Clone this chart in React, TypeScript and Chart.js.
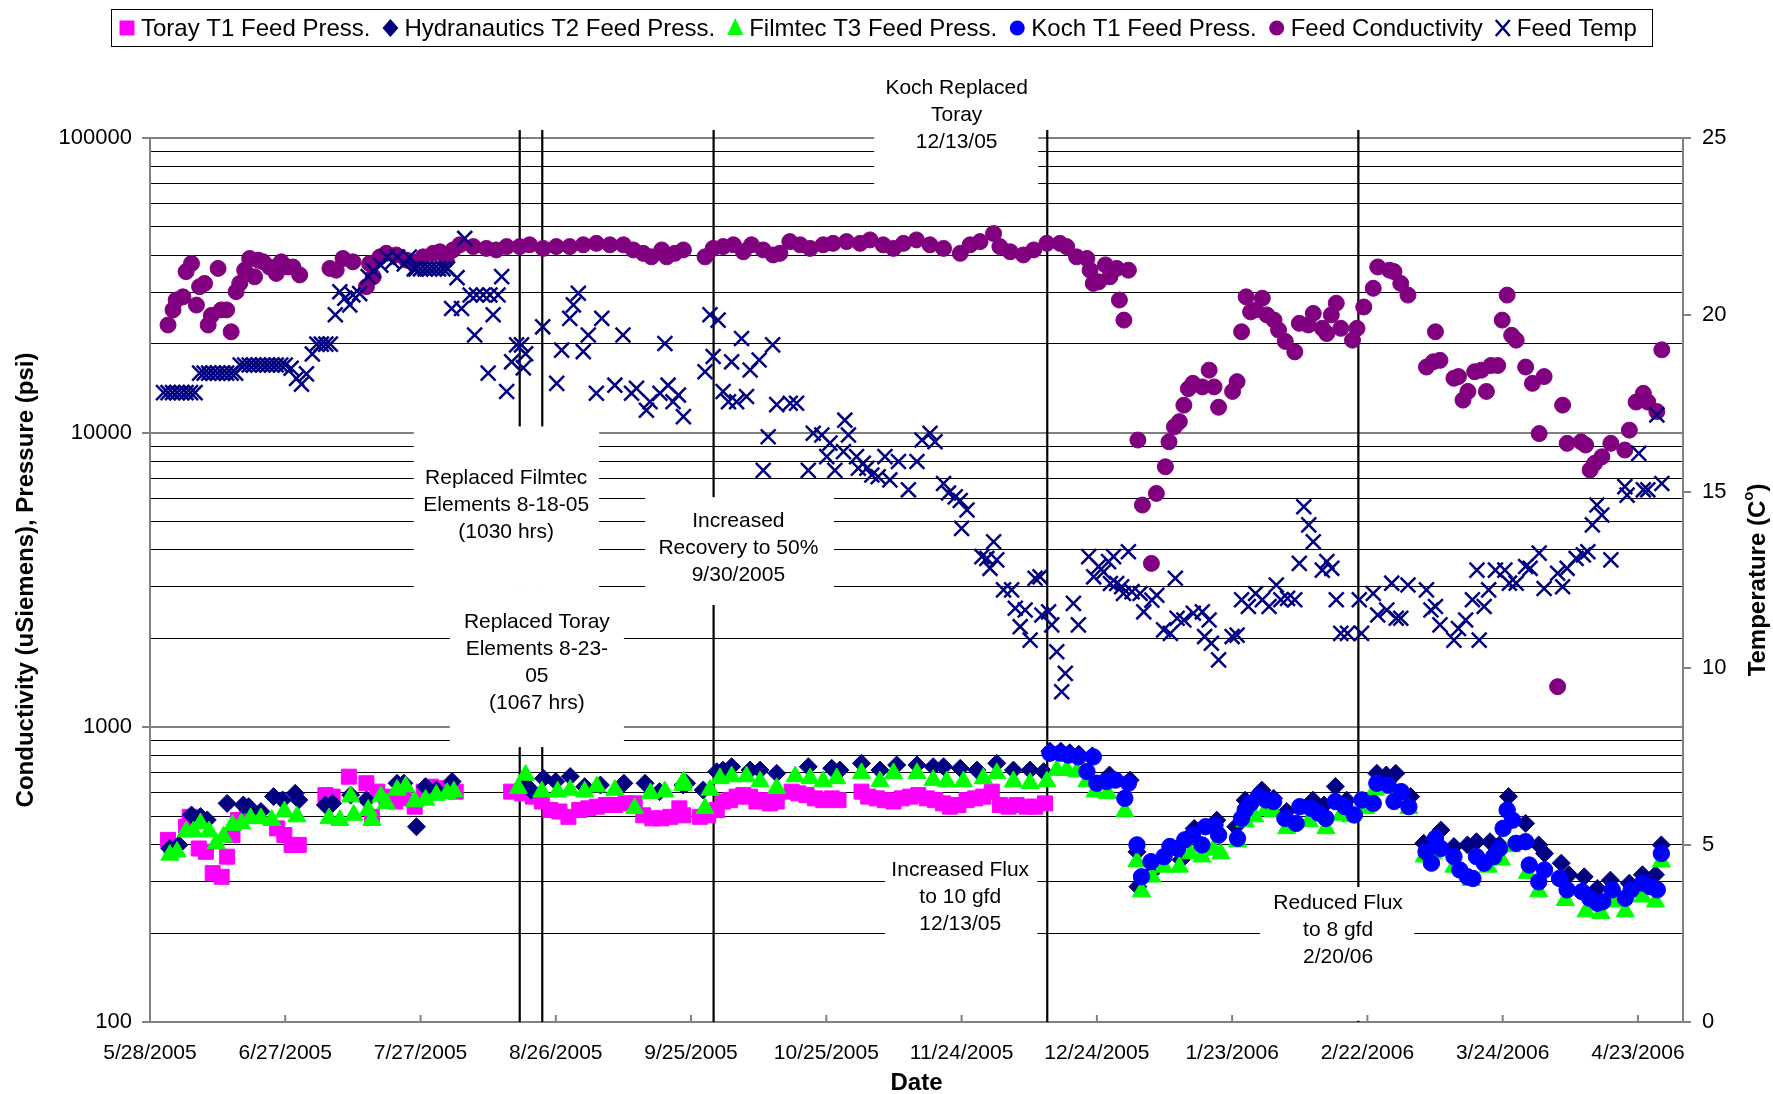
import React, { useEffect, useRef } from "react";
import { Chart, registerables } from "chart.js";

Chart.register(...registerables);

const FONT = '"Liberation Sans", Arial, Helvetica, sans-serif';

// x axis: days since 5/28/2005
const X_MIN = 0;
const X_MAX = 340;
const X_TICKS = [0, 30, 60, 90, 120, 150, 180, 210, 240, 270, 300, 330];
const LOG_TICKS = [
  100, 200, 300, 400, 500, 600, 700, 800, 900,
  1000, 2000, 3000, 4000, 5000, 6000, 7000, 8000, 9000,
  10000, 20000, 30000, 40000, 50000, 60000, 70000, 80000, 90000, 100000,
];
const LOG_LABELS = [100, 1000, 10000, 100000];
const TEMP_TICKS = [0, 5, 10, 15, 20, 25];
const EVENT_DAYS = [82, 87, 125, 199, 268];

// [day, psi]
const TORAY: [number, number][] = [
  [4, 415], [4.8, 394], [8, 460], [8.8, 497], [10.8, 388], [12.4, 378], [13.9, 320], [15.9, 311], [17.1, 364],
  [18.3, 431], [19.5, 485], [21.5, 517], [28.2, 454], [29.8, 431], [31.4, 399], [33, 399],
  [38.9, 589], [40.5, 582], [44.1, 680], [48, 646], [49.2, 497], [50.4, 605], [52.4, 582], [54.4, 560], [56.3, 574],
  [58.7, 538], [60.7, 605], [62.3, 629], [64.3, 621], [66.3, 613], [67.8, 605],
  [80.1, 605], [82.5, 597], [84.9, 582], [86.9, 560], [88.8, 524], [90.8, 518], [92.8, 497], [95.2, 524], [97.2, 531],
  [99.1, 538], [101.1, 545], [103.1, 545], [105.5, 552], [107.5, 552], [109.4, 503], [111.4, 491], [113.4, 491],
  [115.4, 497], [117.4, 531], [118.3, 503], [122, 497], [123.8, 503], [125.7, 524], [127.1, 560], [128.6, 566],
  [130.1, 582], [131.6, 589], [133.1, 582], [134.5, 560], [136, 566], [137.5, 552], [139, 560], [142.3, 605],
  [143.8, 597], [145.6, 589], [147.5, 574], [149.3, 566], [151.2, 574], [152.7, 566], [157.8, 605], [159.3, 582],
  [161.2, 574], [163, 566], [164.9, 560], [166.7, 574], [168.6, 582], [170.4, 589], [172.3, 574], [174.1, 566],
  [175.9, 552], [177.4, 538], [179.3, 545], [181.1, 566], [183, 574], [184.8, 582], [186.7, 605], [188.5, 545],
  [190.4, 538], [192.2, 545], [194.5, 538], [196.3, 538], [198.5, 552],
];

const HYDRANAUTICS: [number, number][] = [
  [4.4, 388], [6.4, 399], [9.2, 504], [11.2, 498], [12.7, 485], [17.1, 552], [20.7, 545], [21.9, 538], [24.6, 518],
  [27.4, 582], [29.4, 567], [32.2, 597], [33, 567], [38.9, 545], [40.5, 552], [44.5, 589], [48, 567], [54.8, 646],
  [56.3, 646], [59.1, 460], [61.1, 629], [63.5, 613], [67, 655], [82.9, 646], [84.5, 613], [87.3, 671], [90, 655],
  [93.2, 681], [96.4, 629], [99.9, 637], [105.1, 646], [109.8, 646], [113, 605], [118.2, 637], [119, 646],
  [122.7, 613], [125.7, 707], [127.1, 716], [129, 735], [133.1, 716], [135.3, 716], [139, 698], [146, 735],
  [151.2, 726], [153, 716], [157.8, 755], [161.9, 716], [165.6, 745], [170.1, 745], [173.7, 735], [176, 735],
  [179.7, 726], [183.4, 716], [187.8, 755], [191.5, 716], [195.2, 716], [198.2, 707], [199.6, 830], [202, 830],
  [204, 820], [206, 810], [209, 800], [212.8, 689], [217.4, 662], [218.9, 378], [219.1, 288], [222, 320],
  [228.7, 355], [231.6, 454], [236.6, 484], [240.8, 460], [242.9, 566], [246.6, 612], [249.2, 574], [252.1, 518],
  [257.9, 566], [260.4, 545], [262.9, 630], [265.4, 566], [272.1, 698], [274.2, 689], [276.3, 698], [279.6, 582],
  [282.5, 404], [286.3, 448], [289.2, 394], [292.2, 399], [294.2, 409], [297.2, 409], [299.3, 399], [301.3, 582],
  [305.1, 472], [308, 399], [309.3, 373], [313, 346], [314.7, 316], [318.1, 311], [321, 284], [323.9, 303],
  [328.1, 296], [331, 316], [333.9, 316], [335.2, 399],
];

const FILMTEC: [number, number][] = [
  [4.4, 369], [6, 378], [8, 443], [9.6, 443], [11.2, 472], [13.1, 443], [14.7, 404], [16.3, 425], [18.3, 466],
  [20.3, 472], [22.3, 491], [24.6, 491], [27, 484], [29.8, 518], [32.6, 498], [39.7, 491], [42.1, 484], [44.5, 582],
  [45.2, 504], [48.4, 524], [49.2, 484], [51.2, 582], [52.4, 552], [54.8, 613], [56.7, 629], [58.7, 560], [61.1, 567],
  [63.5, 589], [65.9, 597], [67.4, 605], [81.7, 621], [83.3, 689], [86.9, 605], [90.4, 605], [93.2, 613], [96.4, 605],
  [99.1, 629], [103.1, 613], [107.5, 531], [111, 597], [114.2, 605], [118.2, 637], [118.3, 655], [123.1, 531],
  [124.2, 613], [126.4, 671], [129, 681], [132.3, 681], [135.3, 655], [139, 621], [143.1, 681], [146.4, 671],
  [149.3, 655], [152.3, 671], [157.8, 698], [161.9, 655], [164.9, 698], [170.1, 698], [173.7, 662], [176.7, 655],
  [180.4, 655], [184.8, 671], [187.8, 698], [191.5, 655], [195.2, 646], [198.9, 655], [201.1, 716], [203.3, 716],
  [205.6, 707], [207.8, 655], [209.6, 605], [212.4, 597], [216.2, 518], [218.9, 350], [219.9, 277], [222.2, 311],
  [224.9, 336], [228.3, 336], [230.8, 373], [233.3, 364], [235.8, 384], [237.5, 373], [241.2, 409], [242.9, 479],
  [245, 498], [247.5, 524], [249.2, 518], [252.1, 454], [257.1, 479], [260.8, 454], [264.2, 504], [266.3, 498],
  [269.6, 531], [271.7, 613], [275.5, 621], [279.2, 531], [282.6, 364], [284.6, 373], [289.2, 336], [293, 303],
  [296.8, 336], [299.7, 355], [301.8, 394], [305.5, 320], [308, 277], [313.9, 259], [318.5, 237], [321.8, 234],
  [324.3, 256], [327.2, 237], [331, 266], [333.9, 256], [335.2, 350],
];

const KOCH: [number, number][] = [
  [199.6, 817], [201.9, 817], [203.7, 805], [205.9, 794], [207.8, 708], [209.2, 794], [210, 646], [212.2, 655],
  [214.1, 662], [216.2, 574], [217, 646], [218.9, 399], [219.9, 311], [222, 350], [224.9, 364], [226.2, 394],
  [227.9, 388], [229.5, 415], [231.2, 431], [233.3, 399], [234.1, 460], [236.2, 466], [237, 431], [241.2, 420],
  [242.1, 491], [242.9, 524], [244.1, 552], [245.8, 582], [247.5, 567], [249.2, 560], [251.7, 491], [254.2, 472],
  [255, 538], [257.5, 531], [259.2, 511], [260.8, 491], [262.9, 560], [265, 538], [267.1, 504], [268.8, 567],
  [271.3, 552], [272.1, 646], [274.6, 637], [275.9, 560], [277.5, 605], [279.2, 538], [283, 378], [284.2, 346],
  [285.1, 420], [286.3, 388], [289.2, 364], [290.5, 328], [292.2, 311], [293.4, 307], [294.2, 364], [295.9, 346],
  [298, 364], [299.3, 388], [300.1, 454], [301, 524], [302.2, 484], [303, 404], [305.1, 409], [305.9, 341],
  [308, 299], [309.3, 328], [312.6, 307], [314.3, 281], [317.6, 277], [319.3, 263], [321, 253], [322.2, 256],
  [324.3, 281], [327.2, 263], [328.5, 281], [331, 296], [332.7, 288], [334.3, 281], [335.2, 373],
];

// [day, uS]
const CONDUCTIVITY: [number, number][] = [
  [4, 23200], [5.1, 26100], [5.8, 28200], [7.3, 28900], [8, 35200], [9.2, 37500], [10.3, 27100], [11, 31300],
  [12.1, 32100], [12.9, 23200], [13.6, 25000], [15.1, 36100], [15.8, 26100], [17, 26100], [18, 22000], [19.1, 30100],
  [19.9, 32100], [21, 35600], [22.1, 39000], [23.2, 33800], [24, 38500], [25.1, 38000], [26.5, 36500], [28, 34700],
  [29.1, 38000], [30.6, 36500], [31.7, 36500], [33.2, 34300], [39.9, 36100], [41.3, 35600], [42.8, 39000],
  [45, 38000], [48, 31300], [48.7, 37500], [49.5, 33800], [51, 39500], [52.4, 40600], [54.6, 40100], [56.9, 38500],
  [58.3, 38000], [60.6, 39500], [62.8, 40600], [64.3, 41100], [65.7, 38500], [67.2, 41700], [68.7, 43400],
  [71.7, 42800], [74.6, 42200], [76.8, 41700], [79.1, 42800], [82, 42800], [84.2, 43400], [87.2, 42200],
  [90.1, 42800], [93.1, 42800], [96.1, 43400], [99, 43900], [102, 43400], [105, 43400], [107.2, 41700],
  [109.4, 40600], [111.2, 39500], [113.5, 41700], [114.6, 39500], [116.4, 40600], [118.3, 41700], [123.1, 39500],
  [124.9, 42200], [127.1, 42800], [129.4, 43400], [131.6, 41100], [133.4, 43400], [136, 41700], [138.2, 40100],
  [139.7, 40600], [141.9, 44500], [144.2, 43400], [146.4, 42200], [149.3, 43400], [151.5, 43900], [154.5, 44500],
  [157.5, 43900], [159.7, 45100], [162.6, 43400], [164.9, 42200], [167.1, 43900], [170, 45100], [173, 43400],
  [176, 42200], [179.7, 40600], [181.9, 43400], [184.1, 44500], [187.1, 47400], [188.5, 42800], [190.8, 41100],
  [193.7, 40100], [196, 41700], [198.9, 43900], [201.8, 43900], [203.3, 42800], [205.5, 39500], [207.8, 39000],
  [208.5, 35600], [209.2, 32100], [210.4, 32500], [211.9, 37100], [212.9, 33800], [214.4, 36100], [215, 28200],
  [216, 24100], [217, 35600], [219.1, 9440], [220.1, 5680], [222.1, 3600], [223.2, 6220], [225.2, 7660],
  [226, 9310], [227.2, 10470], [228.3, 10900], [229.3, 12400], [230.3, 14100], [231.3, 14700], [233.4, 14300],
  [234.9, 16300], [236, 14300], [237, 12200], [240.1, 13800], [241.1, 14900], [242.1, 22000], [243.1, 28900],
  [244.1, 25700], [245.2, 26100], [246.7, 28600], [247.7, 25100], [249.3, 24100], [250.3, 22300], [251.8, 20400],
  [253.9, 18800], [254.9, 23500], [256.9, 23200], [258, 25400], [260, 22600], [261, 21700], [262, 25100],
  [263.1, 27500], [264.1, 22600], [266.7, 20600], [267.7, 22600], [269.2, 26700], [271.3, 30900], [272.3, 36500],
  [274.9, 35600], [275.9, 35200], [277.4, 32100], [279, 29300], [283.1, 16700], [284.6, 17400], [285.1, 22000],
  [286.1, 17600], [289.2, 15300], [290.2, 15500], [291.2, 12900], [292.3, 13800], [293.8, 16100], [295.3, 16300],
  [296.4, 13800], [297.4, 16900], [298.9, 16900], [299.9, 24100], [301, 29300], [302, 21400], [303, 20600],
  [305.1, 16700], [306.6, 14700], [308.1, 9930], [309.2, 15500], [312.2, 1374], [313.3, 12400], [314.3, 9200],
  [317.4, 9310], [318.4, 9080], [319.4, 7470], [320.4, 7870], [322, 8280], [324, 9200], [327.1, 8730],
  [328.1, 10200], [329.6, 12700], [331.2, 13600], [332.2, 12700], [334.2, 11800], [335.3, 19100],
];

// [day, deg C]
const FEED_TEMP: [number, number][] = [
  [3, 17.8], [4, 17.8], [5, 17.8], [6, 17.8], [7, 17.8], [8, 17.8], [9, 17.8], [10, 17.8],
  [11, 18.35], [12, 18.35], [13, 18.35], [14, 18.35], [15, 18.35], [16, 18.35], [17, 18.35], [18, 18.35], [19, 18.35],
  [20, 18.58], [21, 18.58], [22, 18.58], [23, 18.58], [24, 18.58], [25, 18.58], [26, 18.58], [27, 18.58], [28, 18.58],
  [29, 18.58], [30, 18.58], [31.3, 18.49], [32.5, 18.2], [33.6, 18.04], [34.7, 18.33], [36, 18.89], [37, 19.17],
  [38, 19.17], [39, 19.17], [40, 19.17], [41.1, 20.0], [42.1, 20.65], [43.2, 20.47], [44.3, 20.28], [45, 20.56],
  [46.5, 20.6], [48.4, 21.08], [49.5, 21.25], [51.2, 21.4], [52.6, 21.63], [53.8, 21.5], [54.9, 21.63], [56.4, 21.44],
  [57.5, 21.63], [58.6, 21.3], [59, 21.3], [60, 21.3], [61, 21.3], [62, 21.3], [63, 21.3], [64, 21.3], [65, 21.3],
  [66, 21.3], [66.9, 20.18], [68.1, 21.05], [69.1, 20.18], [69.8, 22.16], [71, 20.56], [72, 19.43], [72.4, 20.56],
  [73.9, 20.56], [75, 18.35], [75.4, 20.56], [76.1, 20.0], [77.2, 20.56], [78, 21.08], [79.1, 17.83], [80.2, 18.67],
  [81.3, 19.15], [82.4, 19.15], [82.8, 18.5], [83.3, 18.9], [87.1, 19.66], [90.2, 18.06], [91.3, 19.0], [93.1, 19.9],
  [93.9, 20.28], [95, 20.61], [96.1, 18.96], [97.2, 19.43], [99, 17.78], [100.2, 19.9], [103.1, 18.01], [104.9, 19.43],
  [106.8, 17.78], [107.9, 17.92], [110.1, 17.3], [110.9, 17.54], [113.1, 17.78], [114.2, 19.19], [114.9, 18.01],
  [116, 17.54], [117.2, 17.73], [118.3, 17.12], [123.1, 18.39], [124.2, 20.0], [124.9, 18.82], [126, 19.85],
  [127.1, 17.83], [128.3, 17.54], [129, 18.67], [130.1, 17.54], [131.2, 19.33], [132.3, 17.69], [133.1, 18.44],
  [135.1, 18.72], [136, 15.6], [137.1, 16.55], [138.1, 19.15], [139, 17.46], [142, 17.5], [143.4, 17.5], [146, 15.6],
  [147.1, 16.65], [149, 16.6], [150.1, 15.99], [150.8, 16.37], [151.9, 15.6], [153.8, 16.13], [154.1, 17.02],
  [154.9, 16.6], [156.7, 15.99], [157.1, 15.66], [158.2, 15.8], [159, 15.66], [160.1, 15.47], [161.5, 15.42],
  [163, 15.99], [164.1, 15.33], [166, 15.85], [168.2, 15.05], [170.1, 15.85], [171.2, 16.46], [173, 16.65],
  [174.1, 16.41], [176, 15.23], [177.1, 14.96], [178.6, 14.85], [179.7, 14.75], [180, 13.96], [181.2, 14.48],
  [184.5, 13.16], [185.6, 13.11], [186.3, 12.83], [187.1, 13.58], [187.8, 13.07], [189.3, 12.22], [191.1, 12.22],
  [191.9, 11.7], [193, 11.18], [194.1, 11.65], [195.2, 10.8], [196.3, 12.55], [197.4, 12.59], [197.8, 11.51],
  [199.3, 11.6], [200, 11.23], [201.1, 10.47], [202.2, 9.34], [203, 9.86], [204.8, 11.84], [205.9, 11.23],
  [208.2, 13.16], [209.3, 12.59], [210.4, 12.88], [211.5, 12.73], [212.6, 13.02], [213, 12.4], [213.7, 13.16],
  [214.4, 12.4], [215.5, 12.31], [215.9, 12.12], [217, 13.3], [217.8, 12.17], [219.6, 12.12], [220.4, 11.6],
  [222.2, 11.93], [223.3, 12.07], [224.8, 11.09], [226.3, 10.99], [227.4, 12.55], [227.8, 11.42], [229.3, 11.37],
  [231.4, 11.56], [233.4, 11.6], [233.9, 10.9], [234.9, 11.37], [235.4, 10.71], [237, 10.24], [240, 10.9],
  [241.1, 10.94], [242.1, 11.94], [243.6, 11.75], [245.2, 12.12], [246.7, 11.94], [248.2, 11.75], [249.8, 12.36],
  [250.8, 11.94], [252.3, 11.98], [253.9, 11.94], [254.9, 12.97], [255.9, 14.57], [257, 14.06], [258, 13.58],
  [260, 12.78], [261, 13.02], [262.1, 12.83], [263.1, 11.94], [264.1, 10.99], [265.6, 10.99], [268.2, 11.94],
  [268.7, 10.99], [271.3, 12.12], [272.3, 11.51], [274.3, 11.65], [275.4, 12.41], [276.4, 11.42], [277.4, 11.42],
  [279, 12.36], [283.1, 12.22], [284.1, 11.65], [285.1, 11.75], [286.1, 11.23], [289.2, 10.8], [290.2, 11.13],
  [291.8, 11.37], [293.3, 11.94], [294.3, 12.78], [294.8, 10.8], [295.9, 11.75], [296.9, 12.22], [298.4, 12.78],
  [300.5, 12.78], [301.5, 12.41], [303, 12.41], [305.1, 12.88], [306.1, 12.83], [308.1, 13.26], [309.2, 12.26],
  [312.2, 12.69], [313.3, 12.31], [314.3, 12.83], [316.3, 13.11], [317.9, 13.21], [318.9, 13.3], [319.9, 14.06],
  [320.9, 14.62], [322, 14.34], [324, 13.07], [327.1, 15.14], [327.6, 14.9], [330.2, 16.08], [331.2, 15.05],
  [332.2, 15.05], [334.2, 17.17], [335.3, 15.23],
];

const SERIES_LABELS = [
  "Toray T1 Feed Press.",
  "Hydranautics T2 Feed Press.",
  "Filmtec T3 Feed Press.",
  "Koch T1 Feed Press.",
  "Feed Conductivity",
  "Feed Temp",
];

// annotation notes: box [day0, day1, valueBottom, valueTop], text anchor [day, value of first line]
const NOTES = [
  { lines: ["Koch Replaced", "Toray", "12/13/05"], box: [160.6, 197, 67600, 170000], at: [178.9, 147600] },
  { lines: ["Replaced Filmtec", "Elements 8-18-05", "(1030 hrs)"], box: [58.5, 99.6, 2970, 10500], at: [79.0, 7015] },
  { lines: ["Replaced Toray", "Elements 8-23-", "05", "(1067 hrs)"], box: [66.5, 105.1, 857, 2970], at: [85.8, 2275] },
  { lines: ["Increased", "Recovery to 50%", "9/30/2005"], box: [109.8, 151.7, 2600, 6040], at: [130.5, 5010] },
  { lines: ["Increased Flux", "to 10 gfd", "12/13/05"], box: [163, 196.8, 182, 384], at: [179.7, 328] },
  { lines: ["Reduced Flux", "to 8 gfd", "2/20/06"], box: [246.2, 280.4, 101, 287], at: [263.5, 253] },
];

const dayLabel = (d: number) => {
  const dt = new Date(2005, 4, 28 + d);
  return `${dt.getMonth() + 1}/${dt.getDate()}/${dt.getFullYear()}`;
};

const pts = (arr: [number, number][]) => arr.map(([x, y]) => ({ x, y }));

function drawMarker(ctx: CanvasRenderingContext2D, kind: string, x: number, y: number, color: string) {
  ctx.save();
  ctx.fillStyle = color;
  ctx.strokeStyle = color;
  ctx.beginPath();
  if (kind === "rect") {
    ctx.rect(x - 7.5, y - 7.5, 15, 15);
    ctx.fill();
  } else if (kind === "rectRot") {
    ctx.moveTo(x, y - 9);
    ctx.lineTo(x + 8, y);
    ctx.lineTo(x, y + 9);
    ctx.lineTo(x - 8, y);
    ctx.closePath();
    ctx.fill();
  } else if (kind === "triangle") {
    ctx.moveTo(x, y - 10);
    ctx.lineTo(x + 8, y + 7);
    ctx.lineTo(x - 8, y + 7);
    ctx.closePath();
    ctx.fill();
  } else if (kind === "circle") {
    ctx.arc(x, y, 7.5, 0, Math.PI * 2);
    ctx.fill();
  } else {
    ctx.lineWidth = 2.5;
    ctx.moveTo(x - 7, y - 8);
    ctx.lineTo(x + 7, y + 8);
    ctx.moveTo(x + 7, y - 8);
    ctx.lineTo(x - 7, y + 8);
    ctx.stroke();
  }
  ctx.restore();
}

const MARKERS = [
  { kind: "rect", color: "#FF00FF" },
  { kind: "rectRot", color: "#000080" },
  { kind: "triangle", color: "#00FF00" },
  { kind: "circle", color: "#0000FF" },
  { kind: "circle", color: "#800080" },
  { kind: "crossRot", color: "#000080" },
];

const overlay = {
  id: "overlay",
  beforeDatasetsDraw(chart: any) {
    const { ctx, chartArea, scales } = chart;
    const xs = scales.x;
    const ys = scales.y;
    ctx.save();
    ctx.strokeStyle = "#000";
    ctx.lineWidth = 2.2;
    for (const d of EVENT_DAYS) {
      const px = xs.getPixelForValue(d);
      ctx.beginPath();
      ctx.moveTo(px, chartArea.top - 8);
      ctx.lineTo(px, chartArea.bottom);
      ctx.stroke();
    }
    for (const n of NOTES) {
      const x0 = xs.getPixelForValue(n.box[0]);
      const x1 = xs.getPixelForValue(n.box[1]);
      const yb = ys.getPixelForValue(n.box[2]);
      const yt = ys.getPixelForValue(n.box[3]);
      ctx.fillStyle = "#fff";
      ctx.fillRect(x0, yt, x1 - x0, yb - yt);
      ctx.fillStyle = "#000";
      ctx.font = `21px ${FONT}`;
      ctx.textAlign = "center";
      ctx.textBaseline = "middle";
      const tx = xs.getPixelForValue(n.at[0]);
      const ty = ys.getPixelForValue(n.at[1]);
      n.lines.forEach((l, i) => ctx.fillText(l, tx, ty + i * 27));
    }
    ctx.restore();
  },
  afterDraw(chart: any) {
    const { ctx, chartArea, scales } = chart;
    ctx.save();
    // inward x ticks
    ctx.strokeStyle = "#808080";
    ctx.lineWidth = 2;
    for (const t of X_TICKS) {
      const px = scales.x.getPixelForValue(t);
      ctx.beginPath();
      ctx.moveTo(px, chartArea.bottom);
      ctx.lineTo(px, chartArea.bottom - 7);
      ctx.stroke();
    }
    // legend
    ctx.fillStyle = "#fff";
    ctx.fillRect(111.5, 9.5, 1541, 37);
    ctx.strokeStyle = "#000";
    ctx.lineWidth = 1;
    ctx.strokeRect(111.5, 9.5, 1541, 37);
    ctx.font = `24px ${FONT}`;
    ctx.textBaseline = "middle";
    ctx.textAlign = "left";
    let x = 119;
    const ly = 28;
    SERIES_LABELS.forEach((lab, i) => {
      drawMarker(ctx, MARKERS[i].kind, x + 8, ly, MARKERS[i].color);
      ctx.fillStyle = "#000";
      ctx.fillText(lab, x + 22, ly + 1);
      x += 22 + ctx.measureText(lab).width + 12;
    });
    // titles
    const cy = (chartArea.top + chartArea.bottom) / 2;
    ctx.font = `bold 24px ${FONT}`;
    ctx.textAlign = "center";
    ctx.fillStyle = "#000";
    ctx.fillText("Date", (chartArea.left + chartArea.right) / 2, 1083);
    ctx.save();
    ctx.translate(26, cy);
    ctx.rotate(-Math.PI / 2);
    ctx.fillText("Conductivity (uSiemens), Pressure (psi)", 0, 0);
    ctx.restore();
    ctx.save();
    ctx.translate(1758, cy);
    ctx.rotate(-Math.PI / 2);
    const main = "Temperature (C";
    const wMain = ctx.measureText(main).width;
    ctx.font = `bold 15px ${FONT}`;
    const wSup = ctx.measureText("o").width;
    ctx.font = `bold 24px ${FONT}`;
    const wEnd = ctx.measureText(")").width;
    const total = wMain + wSup + wEnd;
    ctx.textAlign = "left";
    let sx = -total / 2;
    ctx.fillText(main, sx, 0);
    sx += wMain;
    ctx.font = `bold 15px ${FONT}`;
    ctx.fillText("o", sx, -9);
    sx += wSup;
    ctx.font = `bold 24px ${FONT}`;
    ctx.fillText(")", sx, 0);
    ctx.restore();
    ctx.restore();
  },
};

export default function App() {
  const ref = useRef<HTMLCanvasElement>(null);
  useEffect(() => {
    document.body.style.margin = "0";
    Chart.defaults.font.family = FONT;
    Chart.defaults.color = "#000";
    const canvas = ref.current!;
    const mk = (i: number, data: [number, number][], axis: string, radius: number, order: number, extra: any = {}) => ({
      label: SERIES_LABELS[i],
      data: pts(data),
      yAxisID: axis,
      pointStyle: MARKERS[i].kind,
      pointRadius: radius,
      backgroundColor: MARKERS[i].color,
      borderColor: MARKERS[i].color,
      borderWidth: 1,
      order,
      ...extra,
    });
    const chart = new Chart(canvas, {
      type: "scatter",
      data: {
        datasets: [
          mk(0, TORAY, "y", 10.6, 6),
          mk(1, HYDRANAUTICS, "y", 9, 5),
          mk(2, FILMTEC, "y", 10.5, 4),
          mk(3, KOCH, "y", 8.2, 3),
          mk(4, CONDUCTIVITY, "y", 8, 2),
          mk(5, FEED_TEMP, "y1", 10.5, 1, { borderWidth: 2.5 }),
        ] as any,
      },
      options: {
        animation: false,
        responsive: false,
        devicePixelRatio: 1,
        events: [],
        layout: { padding: { top: 138, left: 0, right: 0, bottom: 0 } },
        plugins: { legend: { display: false }, tooltip: { enabled: false } },
        scales: {
          x: {
            type: "linear",
            min: X_MIN,
            max: X_MAX,
            afterBuildTicks: (s: any) => {
              s.ticks = X_TICKS.map((v) => ({ value: v }));
            },
            afterFit: (s: any) => {
              s.height = 72;
            },
            ticks: {
              callback: (v: any) => dayLabel(Number(v)),
              font: { size: 21 },
              color: "#000",
              padding: 19,
              maxRotation: 0,
              autoSkip: false,
            },
            grid: { display: false, drawTicks: false },
            border: { display: true, color: "#808080", width: 2 },
          },
          y: {
            type: "logarithmic",
            position: "left",
            min: 100,
            max: 100000,
            afterBuildTicks: (s: any) => {
              s.ticks = LOG_TICKS.map((v) => ({ value: v }));
            },
            afterFit: (s: any) => {
              s.width = 150;
            },
            ticks: {
              callback: (v: any) => (LOG_LABELS.includes(Number(v)) ? String(v) : ""),
              font: { size: 22 },
              color: "#000",
              padding: 10,
              autoSkip: false,
            },
            grid: {
              color: (c: any) => (c.tick && LOG_LABELS.includes(c.tick.value) ? "#808080" : "#000000"),
              lineWidth: (c: any) => (c.tick && LOG_LABELS.includes(c.tick.value) ? 2 : 1),
              tickColor: (c: any) => (c.tick && LOG_LABELS.includes(c.tick.value) ? "#808080" : "rgba(0,0,0,0)"),
              tickLength: 8,
              drawTicks: true,
            },
            border: { display: true, color: "#808080", width: 2 },
          },
          y1: {
            type: "linear",
            position: "right",
            min: 0,
            max: 25,
            afterBuildTicks: (s: any) => {
              s.ticks = TEMP_TICKS.map((v) => ({ value: v }));
            },
            afterFit: (s: any) => {
              s.width = 90;
            },
            ticks: { font: { size: 22 }, color: "#000", padding: 11 },
            grid: { drawOnChartArea: false, tickLength: 8, color: "#808080", lineWidth: 2 },
            border: { display: true, color: "#808080", width: 2 },
          },
        },
      } as any,
      plugins: [overlay],
    });
    return () => chart.destroy();
  }, []);
  return <canvas ref={ref} width={1773} height={1094} style={{ display: "block", width: 1773, height: 1094 }} />;
}
